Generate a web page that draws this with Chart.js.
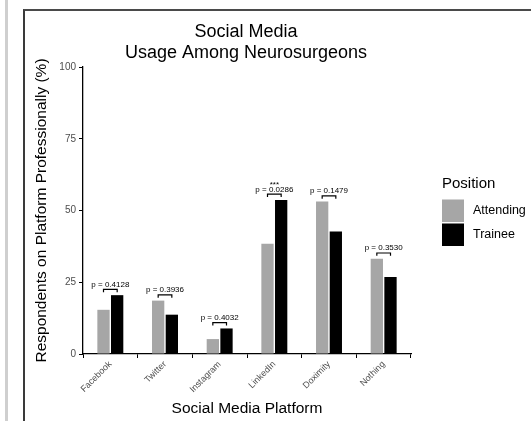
<!DOCTYPE html>
<html>
<head>
<meta charset="utf-8">
<script src="https://cdn.jsdelivr.net/npm/chart.js@4.4.1/dist/chart.umd.min.js"></script>
<style>
html, body { margin: 0; padding: 0; background: #fff; }
#wrap { position: relative; width: 531px; height: 421px; overflow: hidden; }
#sideLine { position: absolute; left: 5px; top: 0; width: 3px; height: 421px; background: #cfcfcf; }
#frame { position: absolute; left: 23px; top: 9px; right: -10px; bottom: -10px; border-left: 2px solid #3a3a3a; border-top: 2px solid #4a4a4a; }
canvas { position: absolute; left: 0; top: 0; }
</style>
</head>
<body>
<div id="wrap">
	<div id="sideLine"></div>
	<div id="frame"></div>
	<canvas id="chart" width="531" height="421"></canvas>
</div>
<script>
// data
var platforms = ['Facebook', 'Twitter', 'Instagram', 'LinkedIn', 'Doximity', 'Nothing'];
var attending = [15.4, 18.6, 5.2, 38.4, 53.1, 33.2];
var trainee = [20.5, 13.7, 8.9, 53.7, 42.7, 26.8];
var pValues = ['0.4128', '0.3936', '0.4032', '0.0286', '0.1479', '0.3530'];
var stars = ['', '', '', '***', '', ''];
var yTicks = [0, 25, 50, 75, 100];

var titleLines = ['Social Media', 'Usage Among Neurosurgeons'];
var legendTitle = 'Position';
var FONT = '"Liberation Sans", Arial, sans-serif';

// p-value brackets, title and legend
var extras = {
	id: 'extras',
	afterDatasetsDraw: function (chart) {
		var ctx = chart.ctx;
		var y = chart.scales.y;
		var m0 = chart.getDatasetMeta(0), m1 = chart.getDatasetMeta(1);
		ctx.save();
		ctx.strokeStyle = '#000';
		ctx.lineWidth = 1.2;
		ctx.fillStyle = '#000';
		ctx.textAlign = 'center';
		ctx.textBaseline = 'alphabetic';
		for (var i = 0; i < platforms.length; i++) {
			var top = Math.max(attending[i], trainee[i]);
			var yb = y.getPixelForValue(top + 2);
			var yl = y.getPixelForValue(top + 1);
			var x0 = m0.data[i].x, x1 = m1.data[i].x;
			ctx.beginPath();
			ctx.moveTo(x0, yl);
			ctx.lineTo(x0, yb);
			ctx.lineTo(x1, yb);
			ctx.lineTo(x1, yl);
			ctx.stroke();
			ctx.font = '8px ' + FONT;
			ctx.fillText('p = ' + pValues[i], (x0 + x1) / 2, yb - 2.5);
			if (stars[i]) {
				ctx.fillText(stars[i], (x0 + x1) / 2, yb - 7.5);
			}
		}
		ctx.restore();
	},
	afterDraw: function (chart) {
		var ctx = chart.ctx;
		var area = chart.chartArea;
		var cx = (area.left + area.right) / 2 - 1;
		ctx.save();
		ctx.fillStyle = '#000';
		ctx.textAlign = 'center';
		ctx.textBaseline = 'alphabetic';
		ctx.font = '18px ' + FONT;
		ctx.fillText(titleLines[0], cx, 36.5);
		ctx.fillText(titleLines[1], cx, 57.5);

		// legend
		ctx.textAlign = 'left';
		ctx.font = '15px ' + FONT;
		ctx.fillText(legendTitle, 442, 188);
		ctx.font = '12.5px ' + FONT;
		ctx.textBaseline = 'middle';
		chart.data.datasets.forEach(function (ds, k) {
			var ky = 199.5 + k * 24;
			ctx.fillStyle = ds.backgroundColor;
			ctx.fillRect(442, ky, 22, 22.5);
			ctx.fillStyle = '#000';
			ctx.fillText(ds.label, 473, ky + 11.5);
		});
		ctx.restore();
	}
};

var ctx = document.getElementById('chart').getContext('2d');
var BarGraph = new Chart(ctx, {
	type: 'bar',
	data: {
		labels: platforms,
		datasets: [
			{
				label: 'Attending',
				data: attending,
				backgroundColor: '#a6a6a6',
				categoryPercentage: 0.5,
				barPercentage: 0.9
			},
			{
				label: 'Trainee',
				data: trainee,
				backgroundColor: '#000000',
				categoryPercentage: 0.5,
				barPercentage: 0.9
			}
		]
	},
	options: {
		responsive: false,
		animation: false,
		devicePixelRatio: 1,
		layout: { padding: { left: 23, right: 120, top: 67, bottom: 0 } },
		plugins: {
			legend: { display: false },
			title: { display: false },
			tooltip: { enabled: false }
		},
		scales: {
			x: {
				afterFit: function (s) { s.height = 67; },
				grid: { drawOnChartArea: false, drawTicks: true, tickLength: 4, color: '#000', lineWidth: 1 },
				border: { display: true, color: '#000', width: 1.3 },
				ticks: {
					color: '#4d4d4d',
					font: { family: FONT, size: 9 },
					minRotation: 45,
					maxRotation: 45,
					autoSkip: false,
					padding: 1
				},
				title: {
					display: true,
					text: 'Social Media Platform',
					color: '#000',
					font: { family: FONT, size: 15.5 },
					padding: { top: 0, bottom: 2.5 }
				}
			},
			y: {
				min: 0,
				max: 100,
				afterFit: function (s) { s.width = 60; },
				afterBuildTicks: function (s) {
					s.ticks = yTicks.map(function (v) { return { value: v }; });
				},
				grid: { drawOnChartArea: false, drawTicks: true, tickLength: 4, color: '#000', lineWidth: 1 },
				border: { display: true, color: '#000', width: 1.3 },
				ticks: {
					color: '#4d4d4d',
					font: { family: FONT, size: 10 },
					padding: 3
				},
				title: {
					display: true,
					text: 'Respondents on Platform Professionally (%)',
					color: '#000',
					font: { family: FONT, size: 15.5 },
					padding: { top: 9, bottom: 0 }
				}
			}
		}
	},
	plugins: [extras]
});
</script>
</body>
</html>
